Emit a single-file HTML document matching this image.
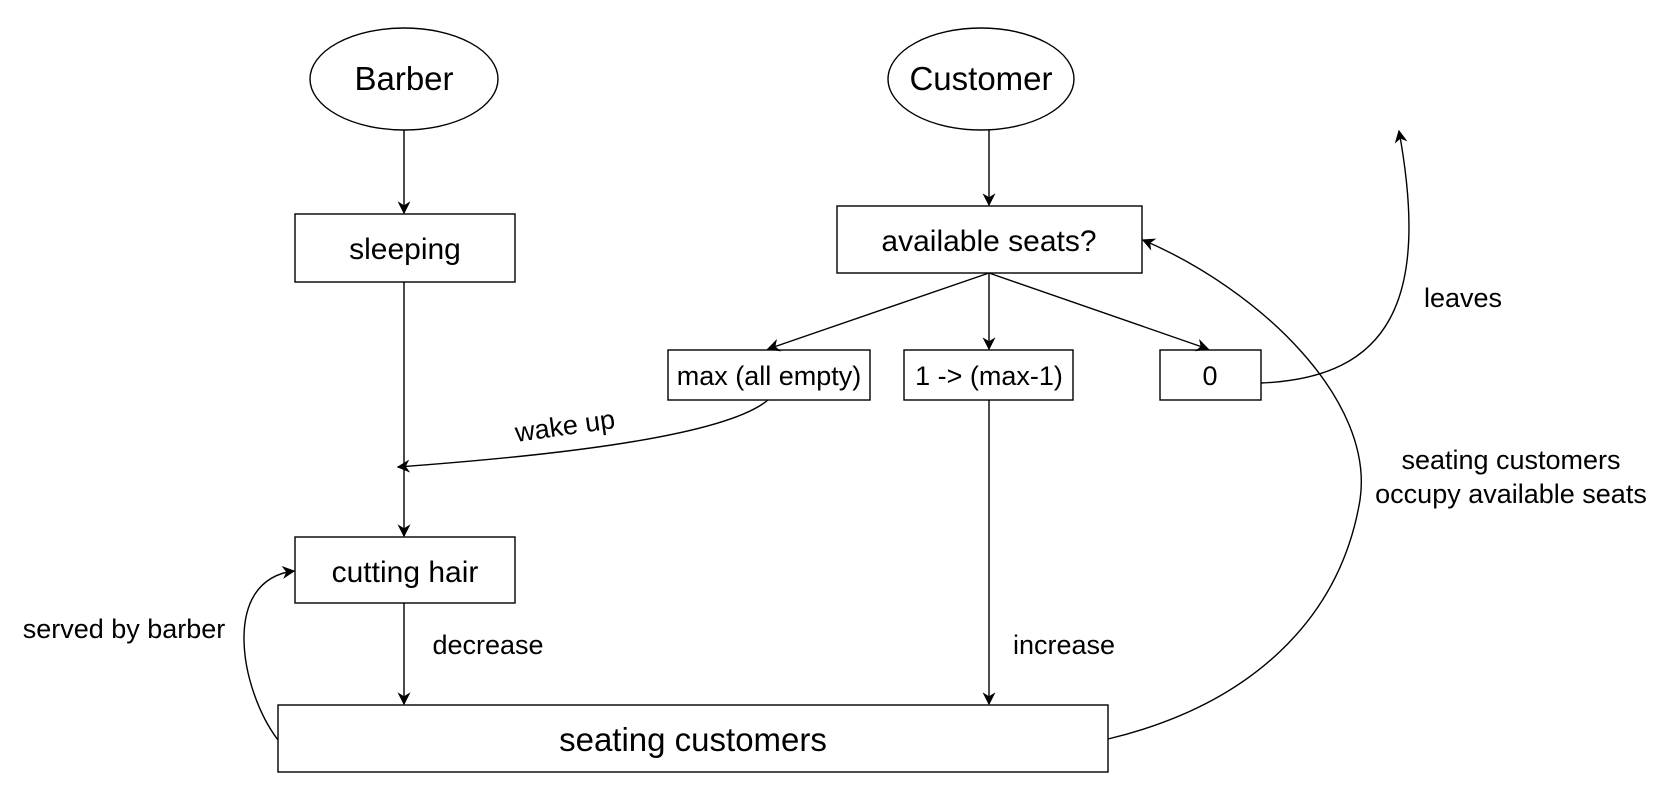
<!DOCTYPE html>
<html><head><meta charset="utf-8"><style>
html,body{margin:0;padding:0;background:#fff;}
svg{display:block;}
text{font-family:"Liberation Sans",Arial,sans-serif;fill:#000;}
</style></head><body>
<svg width="1668" height="808" viewBox="0 0 1668 808" xmlns="http://www.w3.org/2000/svg">
<defs>
<marker id="a" viewBox="0 0 10 10" refX="9" refY="5" markerWidth="13" markerHeight="13" markerUnits="userSpaceOnUse" orient="auto">
<path d="M0,0 L10,5 L0,10 L3,5 z" fill="#000"/>
</marker>
</defs>
<g stroke="#000" stroke-width="1.4" fill="none">
<ellipse cx="404" cy="79" rx="94" ry="51" fill="#fff"/>
<ellipse cx="981" cy="79" rx="93" ry="51" fill="#fff"/>
<rect x="295" y="214" width="220" height="68" fill="#fff"/>
<rect x="837" y="206" width="305" height="67" fill="#fff"/>
<rect x="668" y="350" width="202" height="50" fill="#fff"/>
<rect x="904" y="350" width="169" height="50" fill="#fff"/>
<rect x="1160" y="350" width="101" height="50" fill="#fff"/>
<rect x="295" y="537" width="220" height="66" fill="#fff"/>
<rect x="278" y="705" width="830" height="67" fill="#fff"/>

<line x1="404" y1="130" x2="404" y2="213" marker-end="url(#a)"/>
<line x1="989" y1="130" x2="989" y2="205" marker-end="url(#a)"/>
<line x1="989" y1="273" x2="768" y2="349" marker-end="url(#a)"/>
<line x1="989" y1="273" x2="989" y2="349" marker-end="url(#a)"/>
<line x1="989" y1="273" x2="1208" y2="349" marker-end="url(#a)"/>
<path d="M1261,383 C1390,378 1430,300 1399,131" marker-end="url(#a)"/>
<path d="M768,400 C720,440 520,458 398,467" marker-end="url(#a)"/>
<line x1="404" y1="282" x2="404" y2="536" marker-end="url(#a)"/>
<line x1="404" y1="603" x2="404" y2="704" marker-end="url(#a)"/>
<line x1="989" y1="400" x2="989" y2="704" marker-end="url(#a)"/>
<path d="M278,740 C240,690 220,580 294,571" marker-end="url(#a)"/>
<path d="M1108,739 C1250,705 1340,620 1360,500 C1375,400 1260,290 1143,240" marker-end="url(#a)"/>
</g>
<g font-size="33" text-anchor="middle">
<text x="404" y="90">Barber</text>
<text x="981" y="90">Customer</text>
<text x="693" y="751">seating customers</text>
</g>
<g font-size="30" text-anchor="middle">
<text x="405" y="259">sleeping</text>
<text x="989" y="251">available seats?</text>
<text x="405" y="582">cutting hair</text>
</g>
<g font-size="27" text-anchor="middle">
<text x="769" y="385">max (all empty)</text>
<text x="989" y="385">1 -&gt; (max-1)</text>
<text x="1210" y="385">0</text>
<text x="1463" y="307">leaves</text>
<text x="565" y="435" transform="rotate(-8 565 426)">wake up</text>
<text x="488" y="654">decrease</text>
<text x="1064" y="654">increase</text>
<text x="124" y="638">served by barber</text>
<text x="1511" y="469">seating customers</text>
<text x="1511" y="503">occupy available seats</text>
</g>
</svg>
</body></html>
